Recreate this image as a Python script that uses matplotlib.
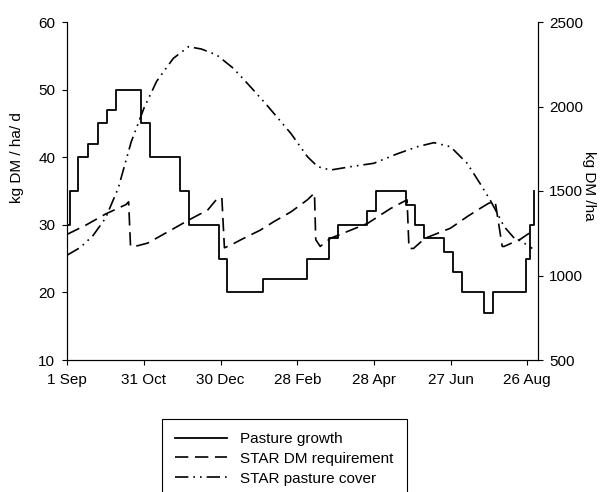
import matplotlib.pyplot as plt

plt.rcParams['font.family'] = ['Liberation Sans', 'DejaVu Sans']
plt.rcParams['font.size'] = 11

# -----------------------------
# DATA (days counted from 1 Sep)
# -----------------------------
tick_days = [0, 60, 120, 180, 240, 300, 360]
tick_labels = ["1 Sep", "31 Oct", "30 Dec", "28 Feb", "28 Apr", "27 Jun", "26 Aug"]

# pasture growth, kg DM/ha/d (step changes)
growth_days = [0, 2, 8, 16, 24, 31, 38, 58, 65, 88, 95, 119, 125, 153, 188, 205,
               212, 235, 242, 265, 272, 279, 295, 302, 309, 326, 333, 359, 362, 365]
growth_rate = [30, 35, 40, 42, 45, 47, 50, 45, 40, 35, 30, 25, 20, 22, 25, 28,
               30, 32, 35, 33, 30, 28, 26, 23, 20, 17, 20, 25, 30, 35]

# STAR DM requirement, kg DM/ha/d
req_days = [0, 15, 30, 46, 48, 49.5, 55, 63, 81, 95, 110, 117, 121, 123, 128, 136,
            151, 162, 175, 188, 193.5, 194.5, 198, 206, 235, 253, 266, 267.5, 271,
            280, 300, 313, 323, 330, 335, 340.5, 342, 355, 365]
req_rate = [28.6, 30.0, 31.6, 33.0, 33.4, 26.8, 26.9, 27.3, 29.2, 30.7, 32.2, 33.8, 34.0,
            26.6, 27.0, 27.8, 29.2, 30.5, 31.9, 33.7, 34.7, 27.8, 26.8, 28.0, 30.2,
            32.4, 33.7, 26.5, 26.5, 28.0, 29.5, 31.2, 32.4, 33.2, 33.4, 26.8, 26.8,
            27.9, 29.2]

# STAR pasture cover, kg DM/ha
cover_days = [0, 10, 20, 30, 40, 50, 60, 70, 83, 95, 105, 117, 130, 143, 155, 175,
              188, 196, 206, 222, 240, 258, 274, 287, 300, 313, 323, 331, 336, 342,
              350, 355, 364]
cover_kg = [1121, 1165, 1235, 1340, 1520, 1790, 1990, 2150, 2285, 2354, 2340, 2305,
            2226, 2120, 2019, 1841, 1703, 1644, 1624, 1644, 1664, 1719, 1762, 1786,
            1762, 1664, 1546, 1447, 1377, 1289, 1220, 1205, 1160]

# -----------------------------
# PLOT
# -----------------------------
fig = plt.figure(figsize=(6.02, 4.92), dpi=100)
ax = fig.add_axes([67.3 / 602, 1 - 360 / 492, (538 - 67.3) / 602, (360 - 22) / 492])
ax2 = ax.twinx()

l1, = ax.step(growth_days, growth_rate, where='post', color='black', lw=1.3)
l2, = ax.plot(req_days, req_rate, color='black', lw=1.2, dashes=(8, 4))
l3, = ax2.plot(cover_days, cover_kg, color='black', lw=1.2, dashes=(8, 3, 1, 3, 1, 3))

ax.set_xlim(0, 368.5)
ax.set_ylim(10, 60)
ax2.set_ylim(500, 2500)
ax.set_xticks(tick_days)
ax.set_xticklabels(tick_labels)
ax.set_yticks([10, 20, 30, 40, 50, 60])
ax2.set_yticks([500, 1000, 1500, 2000, 2500])

for a in (ax, ax2):
    a.spines['top'].set_visible(False)
    for s in a.spines.values():
        s.set_linewidth(0.8)
    a.tick_params(direction='out', length=3.6, width=0.8)
ax.tick_params(axis='y', pad=5)
ax.tick_params(axis='x', pad=6)
ax2.tick_params(axis='y', pad=4.5)

ax.set_ylabel("kg DM / ha/ d", ha='center', va='center')
ax.yaxis.set_label_coords(-0.1075, 0.598)
ax2.set_ylabel("kg DM /ha", rotation=270, ha='center', va='center')
ax2.yaxis.set_label_coords(1.108, 0.515)

leg = fig.legend([l1, l2, l3], ["Pasture growth", "STAR DM requirement", "STAR pasture cover"],
                 loc='upper left', mode='expand', borderaxespad=0,
                 bbox_to_anchor=(161.7 / 602, 0, (406.7 - 161.7) / 602, 1 - 419 / 492),
                 fancybox=False, framealpha=1, edgecolor='black',
                 handlelength=3.4, handletextpad=0.85, labelspacing=0.38, borderpad=0.85)
leg.get_frame().set_linewidth(0.8)

fig.savefig("out.png", dpi=100)
